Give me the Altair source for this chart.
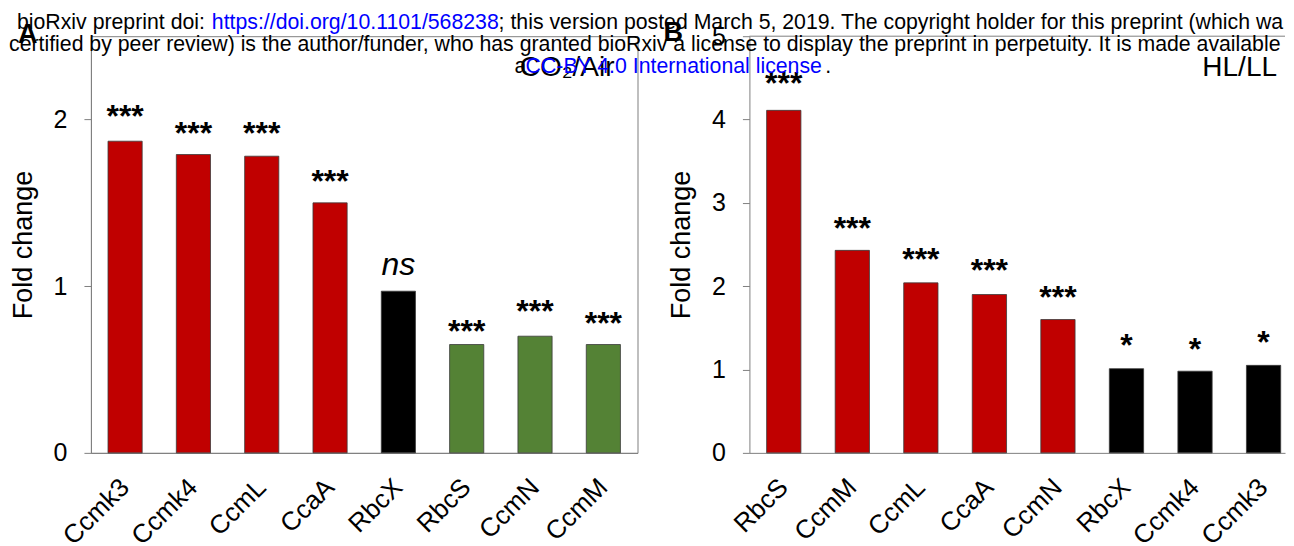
import altair as alt
import pandas as pd

# ---------------- data ----------------
genes_a = ["Ccmk3", "Ccmk4", "CcmL", "CcaA", "RbcX", "RbcS", "CcmN", "CcmM"]
fold_a = [1.87, 1.79, 1.78, 1.50, 0.97, 0.65, 0.70, 0.65]
change_a = ["up", "up", "up", "up", "unchanged", "down", "down", "down"]
sig_a = ["***", "***", "***", "***", "ns", "***", "***", "***"]
sig_level_a = [2.07, 1.97, 1.97, 1.68, 1.13, 0.78, 0.90, 0.83]

genes_b = ["RbcS", "CcmM", "CcmL", "CcaA", "CcmN", "RbcX", "Ccmk4", "Ccmk3"]
fold_b = [4.11, 2.43, 2.04, 1.90, 1.60, 1.01, 0.98, 1.05]
change_b = ["up", "up", "up", "up", "up", "unchanged", "unchanged", "unchanged"]
sig_b = ["***", "***", "***", "***", "***", "*", "*", "*"]
sig_level_b = [4.54, 2.79, 2.42, 2.29, 1.97, 1.39, 1.34, 1.43]

ticks_a = [0, 1, 2]
ticks_b = [0, 1, 2, 3, 4, 5]
ymax_a = 2.5
ymax_b = 5

panel_titles = ["CO\u2082/Air", "HL/LL"]
panel_letters = ["A", "B"]
y_title = "Fold change"

wm_line1 = ["bioRxiv preprint doi:", "https://doi.org/10.1101/568238",
            "; this version posted March 5, 2019. The copyright holder for this preprint (which wa"]
wm_line2 = ["certified by peer review) is the author/funder, who has granted bioRxiv a license "
            "to display the preprint in perpetuity. It is made available"]
wm_line3 = ["a", "CC-BY 4.0 International license", "."]

# ---------------- style ----------------
FONT = "Liberation Sans"
AX = "#7f7f7f"
RED, BLACK, GREEN = "#C00000", "#000000", "#548235"
BLUE = "#0000FF"
W_A, W_B, H = 547, 536, 417
WM = 21.3

color_scale = alt.Scale(domain=["up", "unchanged", "down"], range=[RED, BLACK, GREEN])


def one(text):
    return pd.DataFrame({"t": [text]})


def panel(genes, fold, change, sig, level, ymax, ticks, xscale):
    df = pd.DataFrame({"gene": genes, "fold": fold, "change": change,
                       "sig": sig, "level": level})
    yscale = alt.Scale(domain=[0, ymax], nice=False, zero=True)
    x_axis = alt.Axis(title=None, labelAngle=-45, labelAlign="right",
                      labelBaseline="middle", labelFontSize=26, labelPadding=30,
                      ticks=False, tickSize=0, domainColor=AX, labelOverlap=False)
    y_axis = alt.Axis(title=y_title, values=ticks, format="d", labelFontSize=25,
                      labelPadding=17, tickSize=7, tickColor=AX, domainColor=AX,
                      grid=False, titleFontSize=27, titlePadding=16)
    x = alt.X("gene:N", sort=genes, scale=xscale, axis=x_axis)
    bars = alt.Chart(df).mark_bar(stroke="#3a3a3a", strokeWidth=0.8).encode(
        x=x,
        y=alt.Y("fold:Q", scale=yscale, axis=y_axis),
        color=alt.Color("change:N", scale=color_scale, legend=None),
    )
    stars = alt.Chart(df).transform_filter(alt.datum.sig != "ns").mark_text(
        font=FONT, fontSize=32, fontWeight="bold", baseline="middle", dy=9,
        color="black").encode(
        x=alt.X("gene:N", sort=genes, scale=xscale),
        y=alt.Y("level:Q", scale=yscale, title=y_title),
        text="sig:N",
    )
    ns = alt.Chart(df).transform_filter(alt.datum.sig == "ns").mark_text(
        font=FONT, fontSize=32, fontStyle="italic", baseline="middle",
        color="black").encode(
        x=alt.X("gene:N", sort=genes, scale=xscale),
        y=alt.Y("level:Q", scale=yscale, title=y_title),
        text="sig:N",
    )
    return [bars, stars, ns]


def label(text, x, y, size, weight="normal", align="left", color="black"):
    return alt.Chart(one(text)).mark_text(
        font=FONT, fontSize=size, fontWeight=weight, align=align,
        baseline="alphabetic", color=color).encode(
        x=alt.value(x), y=alt.value(y), text="t:N")


xs_a = alt.Scale(paddingInner=0.5, paddingOuter=0.25)
xs_b = alt.Scale(paddingInner=0.5, paddingOuter=0.157, align=0.8)

layers_a = panel(genes_a, fold_a, change_a, sig_a, sig_level_a, ymax_a, ticks_a, xs_a)
layers_a += [
    label(panel_titles[0], W_A - 23, 40, 28, align="right"),
    label(panel_letters[0], -73, 7, 27, weight="bold"),
]
chart_a = alt.layer(*layers_a).properties(
    width=W_A, height=H, view=alt.ViewBackground(stroke=AX, strokeWidth=1))

frame = one("")
top_rule = alt.Chart(frame).mark_rule(color=AX, strokeWidth=1).encode(
    x=alt.value(0), x2=alt.value(W_B), y=alt.value(0))

layers_b = panel(genes_b, fold_b, change_b, sig_b, sig_level_b, ymax_b, ticks_b, xs_b)
layers_b += [
    top_rule,
    label(panel_titles[1], W_B - 8, 40, 28, align="right"),
    label(panel_letters[1], -86, 5, 27, weight="bold"),
    # watermark (positions relative to panel B origin)
    label(wm_line1[0], -733, -7, WM),
    label(wm_line1[1], -538, -7, WM, color=BLUE),
    label(wm_line1[2], -251, -7, WM),
    label(wm_line2[0], -741, 15, WM),
    label(wm_line3[0], -235, 37, WM),
    label(wm_line3[1], -224, 37, WM, color=BLUE),
    label(wm_line3[2], 76, 37, WM),
]
chart_b = alt.layer(*layers_b).properties(
    width=W_B, height=H, view=alt.ViewBackground(strokeOpacity=0))

chart = alt.hconcat(chart_a, chart_b, spacing=112, bounds="flush").properties(
    padding={"left": 0, "top": 4, "right": 0, "bottom": 0}
).configure_axis(
    labelFont=FONT, titleFont=FONT, labelColor="black", titleColor="black",
    titleFontWeight="normal",
).configure_text(font=FONT)

chart.save("out.html", embed_options={"renderer": "svg", "actions": False})
